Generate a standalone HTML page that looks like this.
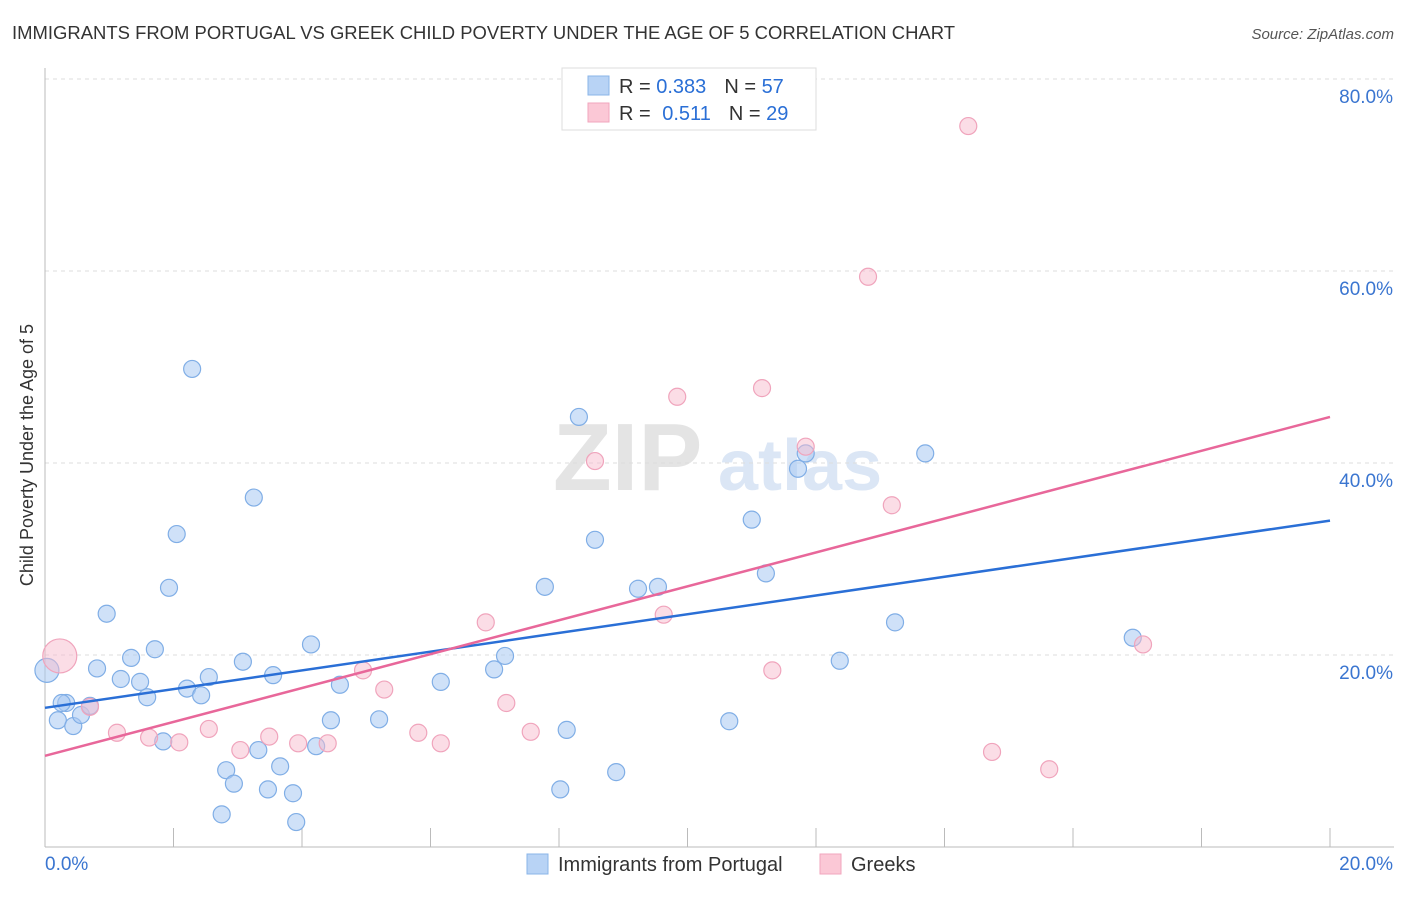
<!DOCTYPE html>
<html><head><meta charset="utf-8"><style>
body{margin:0;background:#fff;font-family:"Liberation Sans",sans-serif}
svg text{font-family:"Liberation Sans",sans-serif}
</style></head><body>
<svg width="1406" height="892" viewBox="0 0 1406 892" id="chart">
<text x="12" y="39" font-size="18" fill="#333" textLength="943" lengthAdjust="spacingAndGlyphs">IMMIGRANTS FROM PORTUGAL VS GREEK CHILD POVERTY UNDER THE AGE OF 5 CORRELATION CHART</text>
<text x="1394" y="39" font-size="15" fill="#555" text-anchor="end" font-style="italic">Source: ZipAtlas.com</text>
<text x="0" y="0" transform="translate(33,455) rotate(-90)" font-size="18" fill="#333" text-anchor="middle">Child Poverty Under the Age of 5</text>
<g><text x="553" y="490" font-size="96" fill="#e4e4e4" font-family="Liberation Serif" font-weight="bold">ZIP</text><text x="718" y="490" font-size="72" fill="#dbe6f5" font-weight="bold">atlas</text></g>
<g id="grid"></g><g id="axes"></g><g id="marks"></g>
<g>
<rect x="562" y="68" width="254" height="62" fill="#fff" stroke="#ddd"/>
<rect x="588" y="76" width="21" height="19" fill="#b8d3f5" stroke="#8ab4e8"/>
<rect x="588" y="103" width="21" height="19" fill="#fbc8d6" stroke="#f2a6bd"/>
<text x="619" y="93" font-size="20" fill="#333">R = <tspan fill="#2a6fd6">0.383</tspan><tspan dx="18">N = </tspan><tspan fill="#2a6fd6">57</tspan></text>
<text x="619" y="120" font-size="20" fill="#333">R = <tspan dx="6" fill="#2a6fd6">0.511</tspan><tspan dx="18">N = </tspan><tspan fill="#2a6fd6">29</tspan></text>
</g>
<g>
<rect x="527" y="854" width="21" height="20" fill="#b8d3f5" stroke="#8ab4e8"/>
<text x="558" y="871" font-size="20" fill="#333">Immigrants from Portugal</text>
<rect x="820" y="854" width="21" height="20" fill="#fbc8d6" stroke="#f2a6bd"/>
<text x="851" y="871" font-size="20" fill="#333">Greeks</text>
</g>
</svg>
<script>
const blueX=[0.03,0.33,0.20,0.44,0.56,0.70,0.81,0.96,1.18,1.34,1.48,1.59,1.71,1.84,1.93,2.05,2.21,2.29,2.43,2.55,2.82,2.75,2.94,3.08,3.25,3.32,3.47,3.55,3.66,3.86,3.91,4.14,4.22,4.45,4.59,5.20,6.16,6.99,7.16,7.78,8.02,8.12,8.31,8.56,8.89,9.23,9.54,10.65,11.00,11.22,11.72,11.84,12.37,13.23,13.70,16.93,0.26];
const blueY=[18.4,15.0,13.2,12.6,13.75,14.7,18.6,24.3,17.5,19.7,17.2,15.6,20.6,11.0,27.0,32.6,16.5,49.8,15.8,17.7,8.0,3.4,6.6,19.3,36.4,10.1,6.0,17.9,8.4,5.6,2.6,21.1,10.5,13.2,16.9,13.3,17.2,18.5,19.9,27.1,6.0,12.2,44.8,32.0,7.8,26.9,27.1,13.1,34.1,28.5,39.4,41.0,19.4,23.4,41.0,21.8,15.0];
const pinkX=[0.23,0.70,1.12,1.62,2.09,2.55,3.04,3.49,3.94,4.40,4.95,5.28,5.81,6.16,6.86,7.18,7.56,8.56,9.63,9.84,11.16,11.32,11.84,12.81,13.18,14.37,14.74,15.63,17.09];
const pinkY=[19.9,14.6,11.9,11.4,10.9,12.3,10.1,11.5,10.8,10.8,18.4,16.4,11.9,10.8,23.4,15.0,12.0,40.2,24.2,46.9,47.8,18.4,41.7,59.4,35.6,75.1,9.9,8.1,21.1];
const blueTrend=[14.5,34.0];
const pinkTrend=[9.5,44.8];
const yTicks=[20,40,60,80];
const xTickLabels=["0.0%","20.0%"];
const X0=45,X1=1330,Y0=847;
const sx=v=>X0+v/20*(X1-X0);
const sy=v=>Y0-v*9.6;
const NS="http://www.w3.org/2000/svg";
function mk(tag,parent,attrs){const e=document.createElementNS(NS,tag);for(const k in attrs)e.setAttribute(k,attrs[k]);document.getElementById(parent).appendChild(e);return e;}
yTicks.forEach(t=>{
 const g=mk('line','grid',{x1:X0,x2:1394,y1:sy(t),y2:sy(t),stroke:'#ddd','stroke-dasharray':'4,4'});
 
 
 const l=mk('text','grid',{x:1393,y:sy(t)+24,'font-size':19,fill:'#3a75d0','text-anchor':'end'});
 l.textContent=t.toFixed(1)+'%';
 
 
});
const ya=mk('line','axes',{x1:X0,x2:X0,y1:68,y2:Y0,stroke:'#bbb'});


const xa=mk('line','axes',{x1:X0,x2:1394,y1:Y0,y2:Y0,stroke:'#bbb'});


for(let i=1;i<=10;i++){const t=mk('line','axes',{x1:sx(i*2),x2:sx(i*2),y1:828,y2:Y0,stroke:'#bbb'});
 
 }
[[0,'start',45],[20,'end',1393]].forEach((d,i)=>{const t=mk('text','axes',{x:d[2],y:870,'font-size':19,fill:'#3a75d0','text-anchor':d[1]});t.textContent=xTickLabels[i];
 
 });
blueX.forEach((x,i)=>{const c=mk('circle','marks',{cx:sx(x),cy:sy(blueY[i]),r:i==0?12:8.5,fill:'rgba(168,200,242,0.55)',stroke:'#80aee6','stroke-width':1.2});
 
 });
pinkX.forEach((x,i)=>{const c=mk('circle','marks',{cx:sx(x),cy:sy(pinkY[i]),r:i==0?17:8.5,fill:'rgba(248,188,206,0.5)',stroke:'#f0a4bc','stroke-width':1.2});
 
 });
const bl=mk('line','marks',{x1:sx(0),x2:sx(20),y1:sy(blueTrend[0]),y2:sy(blueTrend[1]),stroke:'#2a6fd6','stroke-width':2.5});


const pl=mk('line','marks',{x1:sx(0),x2:sx(20),y1:sy(pinkTrend[0]),y2:sy(pinkTrend[1]),stroke:'#e8679a','stroke-width':2.5});


</script>
</body></html>
